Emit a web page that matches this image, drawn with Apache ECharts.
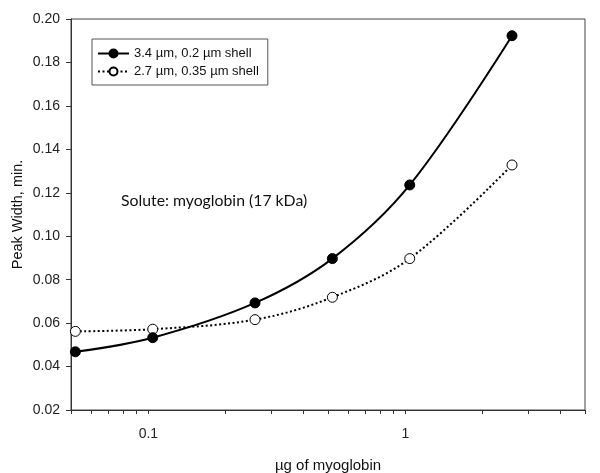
<!DOCTYPE html>
<html>
<head>
<meta charset="utf-8">
<script src="https://cdn.jsdelivr.net/npm/echarts@6/dist/echarts.min.js"></script>
<style>html,body{margin:0;padding:0;background:#fff}#c{width:600px;height:473px}</style>
</head>
<body>
<div id="c"></div>
<script>
var massUg = [0.052, 0.104, 0.26, 0.52, 1.04, 2.6];
var width34 = [0.0468, 0.0533, 0.0693, 0.0897, 0.1236, 0.1923];
var width27 = [0.0562, 0.0572, 0.0616, 0.0719, 0.0897, 0.1328];
var seriesNames = ['3.4 \u00b5m, 0.2 \u00b5m shell', '2.7 \u00b5m, 0.35 \u00b5m shell'];
var xTickValues = [0.05,0.06,0.07,0.08,0.09,0.1,0.2,0.3,0.4,0.5,0.6,0.7,0.8,0.9,1,2,3,4,5];
var xLabelValues = [0.1, 1];
var annotation = 'Solute: myoglobin (17 kDa)';

function pairs(xs, ys){ return xs.map(function(x,i){ return [x, ys[i]]; }); }

var chart = echarts.init(document.getElementById('c'), null, {renderer:'canvas'});
var font = 'Liberation Sans, Arial, sans-serif';
chart.setOption({
  animation: false,
  backgroundColor: '#fff',
  grid: {left: 71, right: 15, top: 19, bottom: 63, show: true, borderColor: '#444', borderWidth: 1,
         containLabel: false, outerBoundsMode: 'none'},
  legend: {
    orient: 'vertical', left: 92, top: 39,
    borderColor: '#555', borderWidth: 1, padding: [8, 9, 7, 5],
    itemWidth: 31, itemHeight: 10, itemGap: 5,
    textStyle: {fontFamily: font, fontSize: 13, color: '#111'},
    data: seriesNames
  },
  graphic: [{type: 'text', left: 121, top: 193, style: {text: annotation, fontFamily: 'Lato, sans-serif', fontSize: 15.8, fill: '#111'}}],
  xAxis: {
    type: 'log', logBase: 10, min: 0.05, max: 5,
    name: '\u00b5g of myoglobin', nameLocation: 'middle', nameGap: 48, nameMoveOverlap: false,
    nameTextStyle: {fontFamily: font, fontSize: 15, color: '#111'},
    axisLine: {lineStyle: {color: '#333', width: 1}},
    axisTick: {show: true, inside: false, length: 4, customValues: xTickValues, lineStyle: {color: '#333'}},
    axisLabel: {customValues: xLabelValues, margin: 17, fontFamily: font, fontSize: 14, color: '#222',
      formatter: function(v){ return String(v); }},
    splitLine: {show: false}, minorTick: {show: false}
  },
  yAxis: {
    type: 'value', min: 0.02, max: 0.2, interval: 0.02,
    name: 'Peak Width, min.', nameLocation: 'middle', nameGap: 46, nameMoveOverlap: false,
    nameTextStyle: {fontFamily: font, fontSize: 14.5, color: '#111'},
    axisLine: {show: true, lineStyle: {color: '#333', width: 1}},
    axisTick: {show: true, length: 5, lineStyle: {color: '#333'}},
    axisLabel: {margin: 11, fontFamily: font, fontSize: 14, color: '#222',
      formatter: function(v){ return v.toFixed(2); }},
    splitLine: {show: false}
  },
  series: [
    {name: seriesNames[0], type: 'line', data: pairs(massUg, width34), smooth: 0.35,
     symbol: 'circle', symbolSize: 10,
     itemStyle: {color: '#000', borderColor: '#000', borderWidth: 1},
     lineStyle: {color: '#000', width: 2}, z: 3},
    {name: seriesNames[1], type: 'line', data: pairs(massUg, width27), smooth: 0.35,
     symbol: 'circle', symbolSize: 10,
     itemStyle: {color: '#fff', borderColor: '#000', borderWidth: 1},
     lineStyle: {color: '#000', width: 2, type: [2, 2.5]}, z: 2}
  ]
});
</script>
</body>
</html>
